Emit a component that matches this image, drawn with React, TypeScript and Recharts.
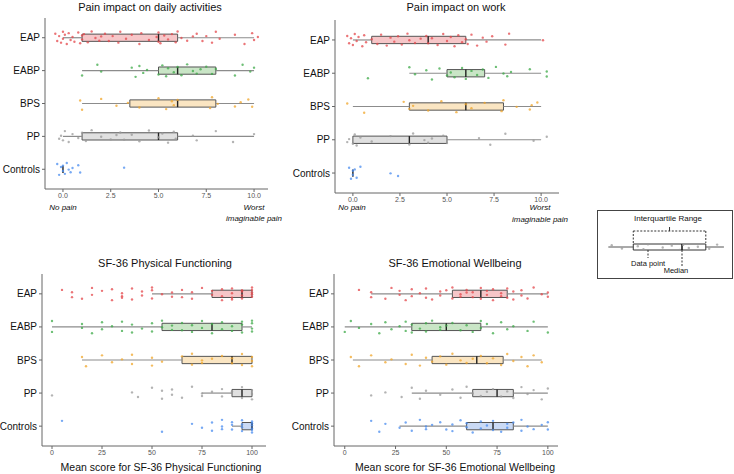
import { ScatterChart, Scatter, XAxis, YAxis, ReferenceArea, ReferenceLine } from 'recharts';

const GROUPS = ['EAP', 'EABP', 'BPS', 'PP', 'Controls'];
const POINT_COLORS = ['#e4474b', '#3ea948', '#f0a62a', '#9a9a9a', '#4a8cef'];
const BOX_FILLS = ['#f3b3b5', '#b7dcb3', '#f8dcae', '#d6d6d6', '#b8cef1'];

// box stats per group: [min, q1, median, q3, max]
const DAILY_BOX = [[0, 1, 5, 6, 10], [1, 5, 6, 8, 10], [1, 3.5, 6, 8, 10], [0, 1, 5, 6, 10], [0, 0, 0, 0, 0]];
const WORK_BOX = [[0, 1, 4, 6, 10], [3, 5, 6, 7, 10], [0, 3, 6, 8, 10], [0, 0, 3, 5, 10], [0, 0, 0, 0, 0]];
const PHYS_BOX = [[50, 80, 95, 100, 100], [0, 55, 80, 95, 100], [15, 65, 90, 100, 100], [75, 90, 95, 100, 100], [90, 95, 100, 100, 100]];
const EMO_BOX = [[13, 53, 67, 80, 100], [0, 33, 50, 67, 100], [4, 43, 65, 78, 97], [33, 63, 75, 83, 100], [27, 60, 73, 83, 100]];

// individual responses (x values), per group
const DAILY_PTS = [
  [-0.4, -0.3, -0.2, -0.1, 0, 0, 0.1, 0.2, 0.3, 0.4, 0.5, 0.6, 0.8, 0.9, 1, 1, 1.1, 1.3, 1.5, 1.7, 1.9, 2, 2.2, 2.4, 2.6, 2.9, 3, 3.3, 3.6, 4, 4.1, 4.5, 4.9, 5, 5, 5.1, 5.3, 5.5, 5.7, 5.9, 6, 6.2, 6.5, 6.8, 7, 7.3, 7.5, 7.8, 8, 8.2, 9, 9.5, 9.9, 10, 10.2],
  [1, 1.8, 2, 3.6, 3.8, 4, 4.2, 4.4, 5, 5.2, 5.4, 5.5, 5.8, 6, 6.2, 6.5, 6.8, 7, 7.2, 7.5, 7.8, 8, 9, 9.4, 9.8, 10],
  [0.9, 1, 2, 2.8, 3.4, 4, 5, 5.4, 5.7, 5.8, 6, 7.7, 7.8, 8.1, 9, 9.3, 9.7, 9.9],
  [-0.2, -0.1, 0, 0.1, 0.3, 0.5, 0.8, 1, 1.2, 1.5, 2, 2.5, 2.8, 3, 3.2, 3.6, 4, 4.5, 5, 5.2, 5.5, 5.8, 5.9, 6.8, 7, 8, 8.9, 10],
  [-0.3, -0.2, -0.1, 0, 0, 0.1, 0.2, 0.3, 0.4, 0.5, 0.8, 0.9, 3.2],
];
const WORK_PTS = [
  [-0.3, -0.2, -0.1, 0, 0.1, 0.2, 0.3, 0.5, 0.6, 0.7, 1, 1.3, 1.5, 1.8, 2, 2.2, 2.4, 2.6, 2.9, 3, 3.3, 3.6, 3.9, 4, 4.2, 4.5, 4.8, 5, 5.2, 5.4, 5.6, 5.8, 6, 6.1, 6.3, 6.6, 6.9, 7.1, 7.4, 8.1, 8.3, 10.1],
  [0.8, 3, 3.3, 3.9, 4.2, 4.6, 5, 5.2, 5.4, 5.8, 6, 6.3, 6.6, 6.9, 7.2, 7.6, 8, 8.2, 8.4, 9.4, 10.3, 10.3],
  [-0.3, 0.6, 2.7, 3, 3.2, 4, 4.7, 5.5, 6, 6.3, 7, 7.9, 8, 8.7, 9.4, 9.5, 9.8],
  [-0.3, -0.2, 0, 0.1, 0.2, 0.4, 1, 2, 3, 3.2, 3.8, 4, 4.2, 4.8, 5, 6.7, 7.3, 8.1, 9.6, 10.3],
  [-0.2, -0.1, 0, 0, 0.1, 0.2, 0.4, 2, 2.4],
];
const PHYS_PTS = [
  [5, 10, 10, 15, 20, 20, 25, 30, 30, 35, 35, 35, 40, 40, 45, 45, 50, 50, 50, 55, 60, 60, 65, 65, 70, 70, 75, 80, 80, 85, 85, 85, 90, 90, 90, 90, 95, 95, 95, 95, 100, 100, 100, 100, 100],
  [0, 0, 15, 15, 20, 25, 25, 30, 35, 35, 40, 40, 45, 50, 50, 55, 55, 60, 60, 65, 65, 70, 70, 75, 75, 80, 80, 85, 85, 90, 90, 95, 95, 95, 100, 100, 100, 100],
  [15, 17, 25, 30, 35, 40, 40, 50, 50, 55, 65, 70, 70, 75, 75, 80, 85, 90, 90, 95, 95, 100, 100, 100],
  [0, 40, 43, 50, 55, 55, 60, 60, 65, 70, 75, 75, 80, 85, 85, 90, 95, 95, 100, 100, 100],
  [5, 55, 70, 75, 80, 80, 85, 85, 85, 90, 90, 90, 95, 95, 95, 95, 100, 100, 100, 100, 100, 100],
];
const EMO_PTS = [
  [7, 13, 13, 20, 23, 27, 27, 30, 33, 33, 37, 40, 40, 43, 47, 47, 50, 53, 53, 57, 57, 60, 60, 63, 63, 67, 67, 70, 70, 73, 73, 77, 77, 80, 80, 83, 83, 87, 87, 90, 93, 97, 100, 100],
  [0, 3, 7, 13, 17, 20, 23, 27, 30, 30, 33, 33, 37, 40, 40, 43, 47, 47, 50, 53, 57, 60, 63, 67, 67, 70, 73, 77, 80, 83, 90, 93, 100],
  [3, 7, 13, 20, 23, 30, 33, 37, 40, 43, 47, 50, 53, 57, 60, 63, 67, 70, 73, 77, 80, 83, 87, 90, 93, 97],
  [13, 20, 28, 33, 37, 40, 47, 53, 57, 60, 63, 67, 70, 73, 77, 80, 83, 87, 90, 93, 97, 100],
  [13, 17, 20, 27, 30, 33, 37, 40, 40, 43, 47, 50, 53, 53, 57, 60, 60, 63, 67, 67, 70, 73, 73, 77, 80, 80, 83, 87, 87, 90, 93, 97, 100, 100],
];

// vertical jitter offsets (category units)
const JITTER = [0.12, -0.1, 0.05, -0.15, 0.18, -0.03, 0.09, -0.19, 0.14, -0.07, 0.02, -0.12, 0.16, -0.17, 0.07, -0.05, 0.11, -0.14, 0.19, -0.01, -0.09, 0.04];

const PAIN_TICKS = [0, 2.5, 5, 7.5, 10];
const SCORE_TICKS = [0, 25, 50, 75, 100];

// key (legend) sample
const KEY_BOX = [0, 2.2, 6.5, 8.6, 10.2];
const KEY_PTS = [0.3, 1.2, 2.6, 3.1, 3.5, 4.8, 5.6, 6.3, 6.6, 7.1, 7.9, 8.9, 9.6];

const FONT = '"Liberation Sans", Arial, Helvetica, sans-serif';
const HALF = 0.11;

const Txt = ({ x, y, size, italic, color, children }: any) => (
  <div
    style={{
      position: 'absolute',
      left: x,
      top: y,
      transform: 'translate(-50%, -50%)',
      fontSize: size,
      fontStyle: italic ? 'italic' : 'normal',
      color: color || '#111',
      whiteSpace: 'nowrap',
      lineHeight: 1,
      fontFamily: FONT,
    }}
  >
    {children}
  </div>
);

const dot = (color: string) => (p: any) => (
  <circle cx={p.cx} cy={p.cy} r={1.2} fill={color} fillOpacity={0.75} />
);

const Panel = ({ box, pts, xDomain, ticks, fmt, width, height, margin }: any) => (
  <ScatterChart width={width} height={height} margin={margin}>
    <XAxis
      type="number"
      dataKey="x"
      domain={xDomain}
      ticks={ticks}
      tickFormatter={fmt}
      allowDataOverflow
      interval={0}
      height={14}
      tickSize={3}
      tickMargin={1}
      stroke="#666"
      tick={{ fontSize: 7, fill: '#555', fontFamily: FONT }}
    />
    <YAxis
      type="number"
      dataKey="y"
      domain={[0.4, 5.6]}
      ticks={[1, 2, 3, 4, 5]}
      tickFormatter={(v: number) => GROUPS[5 - v]}
      allowDataOverflow
      interval={0}
      width={40}
      tickSize={3}
      tickMargin={2}
      stroke="#666"
      tick={{ fontSize: 10, fill: '#111', fontFamily: FONT }}
    />
    {box.map((b: number[], i: number) => {
      const y = 5 - i;
      return [
        <ReferenceLine key={`wl${i}`} segment={[{ x: b[0], y }, { x: b[1], y }]} stroke="#8c8c8c" strokeWidth={1.2} />,
        <ReferenceLine key={`wr${i}`} segment={[{ x: b[3], y }, { x: b[4], y }]} stroke="#8c8c8c" strokeWidth={1.2} />,
        <ReferenceArea key={`b${i}`} x1={b[1]} x2={b[3]} y1={y - HALF} y2={y + HALF} fill={BOX_FILLS[i]} fillOpacity={0.75} stroke="#555" strokeWidth={1} />,
        <ReferenceLine key={`m${i}`} segment={[{ x: b[2], y: y - HALF }, { x: b[2], y: y + HALF }]} stroke="#222" strokeWidth={1.4} />,
      ];
    })}
    {pts.map((xs: number[], i: number) => (
      <Scatter
        key={GROUPS[i]}
        data={xs.map((x, j) => ({ x, y: 5 - i + JITTER[(j + i * 3) % JITTER.length] }))}
        shape={dot(POINT_COLORS[i])}
        isAnimationActive={false}
      />
    ))}
  </ScatterChart>
);

const fmtPain = (v: number) => v.toFixed(1);
const fmtScore = (v: number) => String(v);

const KeyChart = () => (
  <ScatterChart width={136} height={69} margin={{ top: 0, right: 0, bottom: 0, left: 0 }}>
    <XAxis type="number" dataKey="x" domain={[-1, 11]} hide allowDataOverflow />
    <YAxis type="number" dataKey="y" domain={[-3.2, 3.7]} hide allowDataOverflow />
    <ReferenceLine segment={[{ x: KEY_BOX[0], y: 0 }, { x: KEY_BOX[1], y: 0 }]} stroke="#555" />
    <ReferenceLine segment={[{ x: KEY_BOX[3], y: 0 }, { x: KEY_BOX[4], y: 0 }]} stroke="#555" />
    <ReferenceArea x1={KEY_BOX[1]} x2={KEY_BOX[3]} y1={-0.3} y2={0.3} fill="#fff" fillOpacity={0} stroke="#333" />
    <ReferenceLine segment={[{ x: KEY_BOX[2], y: -0.3 }, { x: KEY_BOX[2], y: 0.3 }]} stroke="#111" strokeWidth={1.5} />
    <ReferenceLine segment={[{ x: KEY_BOX[1], y: 0.4 }, { x: KEY_BOX[1], y: 1.6 }]} stroke="#333" strokeDasharray="2 1.5" />
    <ReferenceLine segment={[{ x: KEY_BOX[1], y: 1.6 }, { x: KEY_BOX[3], y: 1.6 }]} stroke="#333" strokeDasharray="2 1.5" />
    <ReferenceLine segment={[{ x: KEY_BOX[3], y: 1.6 }, { x: KEY_BOX[3], y: 0.4 }]} stroke="#333" strokeDasharray="2 1.5" />
    <ReferenceLine segment={[{ x: 5.4, y: 1.6 }, { x: 5.4, y: 2.0 }]} stroke="#333" />
    <ReferenceLine segment={[{ x: 3.5, y: -0.3 }, { x: 3.5, y: -1.1 }]} stroke="#333" strokeDasharray="2 1.5" />
    <ReferenceLine segment={[{ x: KEY_BOX[2], y: -0.3 }, { x: KEY_BOX[2], y: -1.9 }]} stroke="#333" strokeDasharray="2 1.5" />
    <Scatter
      data={KEY_PTS.map((x, j) => ({ x, y: JITTER[j] * 1.5 }))}
      shape={dot('#999')}
      isAnimationActive={false}
    />
  </ScatterChart>
);

export default function App() {
  return (
    <div style={{ position: 'absolute', left: 0, top: 0, width: 734, height: 474, background: '#fff', fontFamily: FONT }}>
      <div style={{ position: 'absolute', left: 0, top: 0 }}>
        <Panel box={DAILY_BOX} pts={DAILY_PTS} xDomain={[-0.94, 10.73]} ticks={PAIN_TICKS} fmt={fmtPain}
          width={280} height={230} margin={{ top: 18, right: 12, bottom: 27, left: 5 }} />
      </div>
      <div style={{ position: 'absolute', left: 280, top: 0 }}>
        <Panel box={WORK_BOX} pts={WORK_PTS} xDomain={[-0.95, 10.95]} ticks={PAIN_TICKS} fmt={fmtPain}
          width={290} height={230} margin={{ top: 20, right: 11, bottom: 23, left: 15 }} />
      </div>
      <div style={{ position: 'absolute', left: 0, top: 240 }}>
        <Panel box={PHYS_BOX} pts={PHYS_PTS} xDomain={[-5, 107]} ticks={SCORE_TICKS} fmt={fmtScore}
          width={280} height={234} margin={{ top: 34, right: 14, bottom: 14, left: 2 }} />
      </div>
      <div style={{ position: 'absolute', left: 280, top: 240 }}>
        <Panel box={EMO_BOX} pts={EMO_PTS} xDomain={[-5.3, 105]} ticks={SCORE_TICKS} fmt={fmtScore}
          width={290} height={234} margin={{ top: 34, right: 12, bottom: 14, left: 14 }} />
      </div>

      <Txt x={150} y={7} size={11}>Pain impact on daily activities</Txt>
      <Txt x={456} y={7} size={11}>Pain impact on work</Txt>
      <Txt x={165} y={263} size={11}>SF-36 Physical Functioning</Txt>
      <Txt x={455} y={263} size={11}>SF-36 Emotional Wellbeing</Txt>

      <Txt x={63} y={208} size={8} italic>No pain</Txt>
      <Txt x={254} y={208} size={8} italic>Worst</Txt>
      <Txt x={254} y={219} size={8} italic>imaginable pain</Txt>
      <Txt x={352} y={208} size={8} italic>No pain</Txt>
      <Txt x={540} y={208} size={8} italic>Worst</Txt>
      <Txt x={540} y={220} size={8} italic>imaginable pain</Txt>

      <Txt x={161} y={467} size={10.5}>Mean score for SF-36 Physical Functioning</Txt>
      <Txt x={455} y={467} size={10.5}>Mean score for SF-36 Emotional Wellbeing</Txt>

      <div style={{ position: 'absolute', left: 597, top: 210, width: 136, height: 69, boxSizing: 'border-box', border: '1px solid #444' }} />
      <div style={{ position: 'absolute', left: 597, top: 210 }}>
        <KeyChart />
      </div>
      <Txt x={668} y={219} size={8}>Interquartile Range</Txt>
      <div style={{ position: 'absolute', left: 631, top: 260, fontSize: 7.5, lineHeight: 1, whiteSpace: 'nowrap', color: '#111' }}>Data point</div>
      <Txt x={676} y={271} size={7.5}>Median</Txt>
    </div>
  );
}
